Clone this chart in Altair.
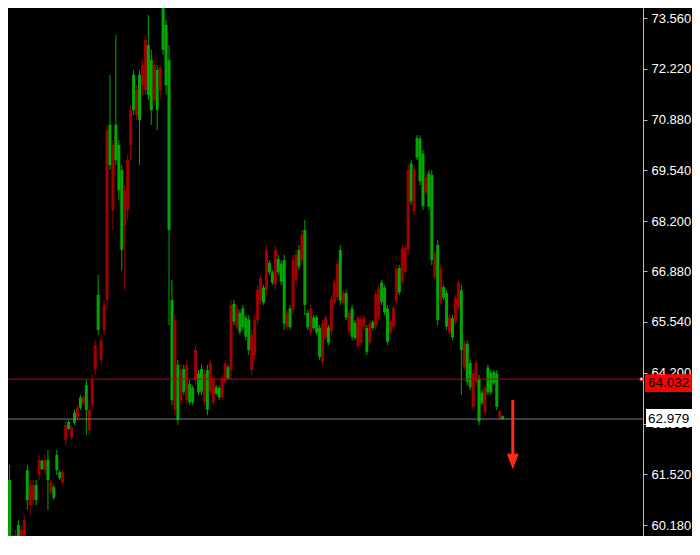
import altair as alt
import pandas as pd

# ---------------- data ----------------
opens = [
    61.63, 59.79, 59.52, 59.92, 59.65, 60.05, 60.31, 60.84, 61.24, 61.24,
    60.84, 61.90, 61.66, 61.90, 61.37, 61.30, 60.90, 61.63, 61.42, 61.58,
    62.82, 62.72, 62.76, 62.88, 63.28, 63.28, 63.55, 63.22, 63.22, 64.01,
    64.93, 65.33, 65.06, 65.99, 70.60, 69.68, 70.21, 69.81, 69.02, 67.44,
    69.02, 69.81, 71.13, 71.13, 71.66, 70.87, 72.32, 72.98, 71.53, 71.13,
    72.32, 71.13, 72.25, 72.72, 71.79, 67.97, 63.48, 65.59, 62.95, 64.27,
    63.70, 64.41, 63.42, 63.42, 64.80, 63.68, 63.70, 64.18, 63.22, 64.45,
    64.05, 63.65, 63.55, 64.05, 64.45, 64.05, 65.99, 65.55, 65.90, 65.28,
    65.40, 65.15, 64.80, 65.20, 65.59, 66.40, 66.70, 66.05, 67.44, 66.85,
    66.58, 67.44, 66.85, 66.60, 65.50, 65.78, 65.40, 67.17, 67.31, 67.00,
    67.83, 65.99, 65.40, 65.90, 65.38, 65.26, 64.62, 65.50, 65.65, 65.00,
    66.15, 66.58, 67.08, 66.10, 66.32, 65.66, 65.78, 65.15, 65.12, 65.65,
    65.62, 65.66, 64.75, 65.50, 65.38, 66.28, 66.42, 66.06, 65.80, 65.02,
    65.54, 65.92, 66.95, 66.32, 67.48, 67.50, 69.55, 68.72, 69.58, 69.88,
    69.25, 68.60, 69.36, 68.58, 67.17, 67.36, 65.59, 66.95, 66.18, 65.42,
    65.66, 65.14, 66.18, 66.58, 64.80, 64.98, 63.96, 63.82, 64.18, 64.46,
    62.92, 63.40, 63.80, 63.68, 63.68, 63.92, 63.30, 63.18, 62.98,
]
highs = [
    61.77, 61.77, 59.92, 60.05, 60.31, 60.18, 60.45, 61.77, 61.37, 61.37,
    61.37, 62.03, 61.90, 62.03, 62.16, 61.37, 61.24, 62.16, 61.63, 61.63,
    62.95, 62.95, 62.82, 63.22, 63.35, 63.61, 63.61, 64.01, 63.35, 64.14,
    65.06, 66.78, 65.20, 66.12, 70.74, 72.06, 70.34, 73.11, 70.34, 69.68,
    69.15, 69.95, 71.27, 72.19, 71.79, 72.19, 72.45, 73.11, 73.64, 72.72,
    72.45, 72.32, 72.32, 74.04, 73.51, 72.85, 66.65, 65.72, 64.54, 64.41,
    64.41, 64.54, 64.01, 63.87, 64.93, 64.27, 64.41, 64.27, 64.41, 64.54,
    64.14, 63.87, 63.87, 64.14, 64.54, 64.41, 66.12, 66.12, 65.99, 65.86,
    65.99, 65.72, 65.72, 65.33, 65.72, 66.52, 66.78, 66.52, 67.57, 67.17,
    66.91, 67.57, 67.31, 67.17, 67.31, 65.86, 65.99, 67.31, 67.44, 67.57,
    67.97, 68.23, 65.86, 65.99, 65.72, 65.72, 65.46, 65.59, 65.72, 65.46,
    66.25, 66.65, 67.17, 67.57, 66.38, 66.38, 65.86, 65.99, 65.59, 65.72,
    65.72, 65.72, 65.46, 65.59, 65.59, 66.38, 66.52, 66.65, 66.52, 65.99,
    65.59, 65.99, 67.04, 67.04, 67.57, 67.57, 69.68, 69.81, 69.68, 70.47,
    70.47, 70.08, 69.42, 69.55, 69.55, 67.44, 67.70, 67.04, 66.52, 66.38,
    65.72, 65.72, 66.25, 66.65, 66.52, 65.06, 65.06, 64.54, 64.27, 64.54,
    64.14, 63.74, 63.87, 64.41, 64.27, 64.27, 64.27, 63.22, 63.08,
]
lows = [
    61.24, 59.52, 59.39, 59.39, 59.39, 59.39, 59.39, 60.58, 60.45, 60.71,
    60.71, 61.37, 61.63, 61.50, 60.58, 60.97, 60.84, 61.50, 61.37, 61.24,
    62.29, 62.69, 62.43, 62.82, 62.95, 63.22, 63.35, 62.56, 62.56, 63.22,
    64.14, 65.20, 64.41, 65.20, 65.86, 69.55, 67.97, 69.68, 68.76, 66.91,
    66.38, 68.23, 69.81, 71.00, 70.87, 69.68, 71.53, 71.53, 71.40, 70.74,
    71.27, 70.60, 71.40, 72.58, 71.53, 65.46, 63.35, 63.08, 62.82, 63.35,
    63.61, 63.35, 63.35, 63.35, 63.87, 63.61, 63.61, 63.35, 63.08, 63.61,
    63.35, 63.61, 63.48, 63.48, 63.87, 64.01, 64.01, 65.46, 65.33, 65.20,
    65.33, 65.06, 64.67, 64.14, 64.54, 65.46, 65.99, 65.99, 66.25, 66.78,
    66.52, 66.38, 66.78, 66.52, 65.33, 65.33, 65.33, 65.72, 66.52, 66.91,
    67.04, 65.72, 65.33, 65.20, 65.33, 65.20, 64.54, 64.41, 65.06, 64.93,
    65.20, 65.99, 66.12, 65.99, 65.99, 65.59, 65.20, 65.06, 65.06, 64.80,
    64.93, 65.33, 64.67, 64.93, 65.33, 65.33, 65.59, 65.99, 65.72, 64.93,
    65.20, 65.33, 65.99, 66.25, 66.52, 66.78, 67.31, 68.63, 68.36, 69.81,
    69.15, 68.49, 68.89, 68.49, 67.04, 66.65, 65.46, 65.99, 66.12, 65.33,
    65.20, 65.06, 65.46, 65.86, 63.61, 64.27, 63.87, 63.74, 63.22, 63.87,
    62.82, 63.35, 63.08, 63.61, 63.61, 63.87, 63.22, 62.95, 62.95,
]
closes = [
    61.37, 61.37, 59.79, 59.52, 60.18, 59.52, 59.65, 61.63, 60.71, 60.84,
    61.24, 61.50, 61.88, 61.63, 61.90, 61.05, 61.18, 62.03, 61.58, 61.30,
    62.43, 62.90, 62.50, 63.15, 63.02, 63.55, 63.40, 63.87, 62.69, 63.35,
    64.27, 66.25, 64.54, 65.33, 66.12, 70.74, 68.49, 70.74, 70.21, 69.55,
    68.10, 68.49, 70.21, 72.06, 71.00, 72.06, 71.79, 71.66, 72.85, 72.45,
    71.40, 72.19, 71.66, 73.90, 73.38, 72.45, 66.12, 63.22, 64.41, 63.48,
    64.30, 63.48, 63.90, 63.80, 64.01, 64.18, 64.30, 63.45, 64.27, 63.70,
    63.42, 63.82, 63.80, 63.55, 63.95, 64.35, 64.27, 66.02, 65.40, 65.78,
    65.90, 65.65, 65.60, 64.27, 64.67, 65.59, 66.10, 66.45, 66.38, 67.10,
    66.85, 66.52, 67.20, 67.08, 67.17, 65.40, 65.90, 65.86, 66.65, 67.44,
    67.17, 67.97, 65.78, 65.28, 65.66, 65.66, 65.38, 64.50, 65.12, 65.40,
    65.30, 66.05, 66.20, 67.44, 66.05, 66.30, 65.28, 65.90, 65.52, 64.90,
    65.00, 65.40, 65.38, 65.00, 65.54, 65.42, 65.68, 66.58, 66.44, 65.90,
    65.26, 65.40, 66.08, 66.96, 66.60, 66.86, 67.44, 69.72, 68.46, 70.40,
    70.38, 69.98, 68.95, 69.46, 69.42, 66.72, 67.57, 66.08, 66.46, 66.30,
    65.26, 65.64, 65.54, 65.94, 66.38, 64.35, 64.96, 64.46, 63.30, 63.95,
    64.04, 63.68, 63.16, 64.34, 64.20, 64.22, 64.18, 63.00, 63.05,
]

tick_values = [73.56, 72.22, 70.88, 69.54, 68.20, 66.88, 65.54, 64.20, 62.86, 61.52, 60.18]
bid_level = 64.032
last_level = 62.979
arrow_x = [171.6]
arrow_top = [63.48]
arrow_bottom = [62.03]
arrow_head = [61.86]

# ---------------- styling ----------------
GREEN = "#00a800"
RED = "#a00000"
W, H = 635, 528
FONT = "Liberation Sans"

df = pd.DataFrame({"k": list(range(len(opens))), "open": opens, "high": highs,
                   "low": lows, "close": closes})

xs = alt.Scale(domain=[7 / 3, 214], nice=False, zero=False)
ys = alt.Scale(domain=[59.893, 73.824], nice=False, zero=False)


def yaxis():
    return alt.Axis(orient="right", values=tick_values, format=".3f", title=None,
                    grid=False, domainColor="#bcbcbc", tickColor="#bcbcbc",
                    tickSize=4, labelColor="#ffffff", labelFont=FONT,
                    labelFontSize=13, labelPadding=4, labelOverlap=False,
                    labelFlush=False)


X = alt.X("k:Q", scale=xs, axis=None)
color = alt.condition("datum.open <= datum.close", alt.value(GREEN), alt.value(RED))

base = alt.Chart(df)
wicks = base.mark_rule(strokeWidth=1, xOffset=0.5, clip=True).encode(
    x=X, y=alt.Y("low:Q", scale=ys, axis=yaxis()), y2="high:Q", color=color)
bodies = base.mark_bar(size=3, xOffset=0.5, clip=True).encode(
    x=X, y=alt.Y("open:Q", scale=ys, axis=yaxis()), y2="close:Q", color=color)

lv = pd.DataFrame({"price": [bid_level, last_level],
                   "label": [f"{bid_level:.3f}", f"{last_level:.3f}"]})
red_line = alt.Chart(lv.iloc[[0]]).mark_rule(color="#c00000", strokeWidth=1).encode(
    y=alt.Y("price:Q", scale=ys, axis=yaxis()))
grey_line = alt.Chart(lv.iloc[[1]]).mark_rule(color="#6f7f8f", strokeWidth=1).encode(
    y=alt.Y("price:Q", scale=ys, axis=yaxis()))
marker = alt.Chart(lv.iloc[[0]]).mark_point(
    shape="square", size=10, filled=True, fill="white", stroke="#c00000",
    strokeWidth=1, opacity=1).encode(
    x=alt.value(W - 1.5), y=alt.Y("price:Q", scale=ys, axis=yaxis()))

box_path = "M-1,-0.32L1,-0.32L1,0.32L-1,0.32Z"
red_box = alt.Chart(lv.iloc[[0]]).mark_point(
    shape=box_path, size=3136, filled=True, color="#ff0000", opacity=1,
    strokeWidth=0, yOffset=4).encode(
    x=alt.value(W + 30), y=alt.Y("price:Q", scale=ys, axis=yaxis()))
white_box = alt.Chart(lv.iloc[[1]]).mark_point(
    shape=box_path, size=3136, filled=True, color="#ffffff", opacity=1,
    strokeWidth=0, yOffset=-1).encode(
    x=alt.value(W + 31), y=alt.Y("price:Q", scale=ys, axis=yaxis()))
red_text = alt.Chart(lv.iloc[[0]]).mark_text(
    align="left", baseline="middle", font=FONT, fontSize=13.5, color="#000000",
    yOffset=4).encode(
    x=alt.value(W + 5), y=alt.Y("price:Q", scale=ys, axis=yaxis()), text="label:N")
white_text = alt.Chart(lv.iloc[[1]]).mark_text(
    align="left", baseline="middle", font=FONT, fontSize=13.5, color="#000000",
    yOffset=0).encode(
    x=alt.value(W + 5), y=alt.Y("price:Q", scale=ys, axis=yaxis()), text="label:N")

arr = pd.DataFrame({"k": arrow_x, "top": arrow_top, "bottom": arrow_bottom,
                    "head": arrow_head})
arrow_shaft = alt.Chart(arr).mark_rule(color="#ff2a1a", strokeWidth=3).encode(
    x=X, y=alt.Y("top:Q", scale=ys, axis=yaxis()), y2="bottom:Q")
arrow_tip = alt.Chart(arr).mark_point(
    shape="M-1,-1.3L1,-1.3L0,1.3Z", size=144, filled=True, color="#ff2a1a",
    opacity=1, strokeWidth=0).encode(
    x=X, y=alt.Y("head:Q", scale=ys, axis=yaxis()))

chart = alt.layer(
    wicks, bodies, red_line, grey_line, marker, arrow_shaft, arrow_tip,
    red_box, white_box, red_text, white_text
).properties(
    width=W, height=H,
    autosize=alt.AutoSizeParams(type="none"),
    padding={"left": 0, "top": 0, "right": 49, "bottom": 0},
).configure(background="#000000").configure_view(stroke=None)

chart.save("out.html", embed_options={"renderer": "svg", "actions": False})
